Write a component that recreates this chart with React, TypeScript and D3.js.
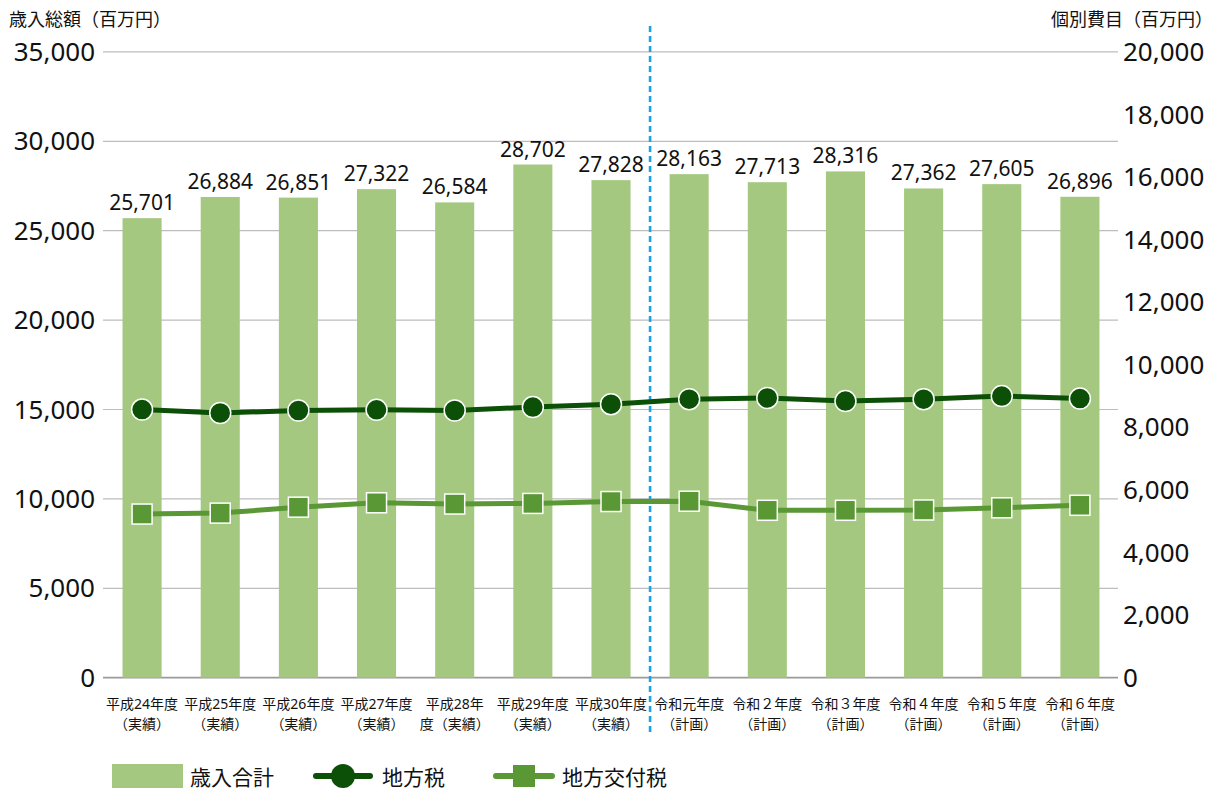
import React from "react";
import * as d3 from "d3";

const categories: string[][] = [
  ["平成24年度", "（実績）"],
  ["平成25年度", "（実績）"],
  ["平成26年度", "（実績）"],
  ["平成27年度", "（実績）"],
  ["平成28年", "度（実績）"],
  ["平成29年度", "（実績）"],
  ["平成30年度", "（実績）"],
  ["令和元年度", "（計画）"],
  ["令和２年度", "（計画）"],
  ["令和３年度", "（計画）"],
  ["令和４年度", "（計画）"],
  ["令和５年度", "（計画）"],
  ["令和６年度", "（計画）"],
];
const revenueTotal = [25701, 26884, 26851, 27322, 26584, 28702, 27828, 28163, 27713, 28316, 27362, 27605, 26896];
const localTax = [8570, 8460, 8540, 8560, 8540, 8650, 8740, 8900, 8940, 8840, 8900, 9000, 8920];
const localAllocationTax = [5230, 5260, 5450, 5590, 5550, 5570, 5630, 5640, 5350, 5350, 5360, 5430, 5510];
const leftTicks = [0, 5000, 10000, 15000, 20000, 25000, 30000, 35000];
const rightTicks = [0, 2000, 4000, 6000, 8000, 10000, 12000, 14000, 16000, 18000, 20000];
const leftTitle = "歳入総額（百万円）";
const rightTitle = "個別費目（百万円）";
const legendLabels = ["歳入合計", "地方税", "地方交付税"];

const W = 1223;
const H = 791;
const FONT = "'Noto Sans', 'Noto Sans CJK JP', sans-serif";
const BAR = "#a4c880";
const DARK = "#0b5006";
const MID = "#5a9735";

export default function App() {
  const x = d3
    .scaleBand<number>()
    .domain(d3.range(categories.length))
    .range([103, 1119])
    .padding(0.5)
    .paddingOuter(0.25);
  const yL = d3.scaleLinear().domain([0, 35000]).range([677.7, 51.9]);
  const yR = d3.scaleLinear().domain([0, 20000]).range([677.7, 51.9]);
  const fmt = d3.format(",");
  const cx = (i: number) => (x(i) as number) + x.bandwidth() / 2;

  const taxLine = d3
    .line<number>()
    .x((_, i) => cx(i))
    .y((d) => yR(d))(localTax) as string;
  const grantLine = d3
    .line<number>()
    .x((_, i) => cx(i))
    .y((d) => yR(d))(localAllocationTax) as string;

  const dashX = (cx(6) + cx(7)) / 2;

  return (
    <svg
      width={W}
      height={H}
      style={{ position: "absolute", left: 0, top: 0, background: "#fff" }}
      fontFamily={FONT}
    >
      {leftTicks.map((t) => (
        <line
          key={"g" + t}
          x1={103}
          x2={1118}
          y1={yL(t)}
          y2={yL(t)}
          stroke={t === 0 ? "#9a9a9a" : "#bdbdbd"}
          strokeWidth={t === 0 ? 1.8 : 1.2}
        />
      ))}
      {leftTicks.map((t) => (
        <text
          key={"l" + t}
          x={95}
          y={yL(t)}
          dy="0.35em"
          textAnchor="end"
          fontSize={26}
          fill="#111"
        >
          {fmt(t)}
        </text>
      ))}
      {rightTicks.map((t) => (
        <text
          key={"r" + t}
          x={1123}
          y={yR(t)}
          dy="0.35em"
          textAnchor="start"
          fontSize={26}
          fill="#111"
        >
          {fmt(t)}
        </text>
      ))}
      <text x={9} y={26} fontSize={18} fill="#111">
        {leftTitle}
      </text>
      <text x={1213} y={26} fontSize={18} fill="#111" textAnchor="end">
        {rightTitle}
      </text>
      {revenueTotal.map((v, i) => (
        <rect
          key={"b" + i}
          x={x(i)}
          y={yL(v)}
          width={x.bandwidth()}
          height={yL(0) - yL(v)}
          fill={BAR}
        />
      ))}
      {revenueTotal.map((v, i) => (
        <text
          key={"bl" + i}
          x={cx(i)}
          y={yL(v) - 8}
          textAnchor="middle"
          fontSize={21}
          fill="#111"
        >
          {fmt(v)}
        </text>
      ))}
      <line
        x1={dashX}
        x2={dashX}
        y1={26}
        y2={735}
        stroke="#1aa3e6"
        strokeWidth={2.6}
        strokeDasharray="6,4"
      />
      <path d={grantLine} fill="none" stroke={MID} strokeWidth={5} />
      <path d={taxLine} fill="none" stroke={DARK} strokeWidth={5} />
      {localAllocationTax.map((v, i) => (
        <rect
          key={"s" + i}
          x={cx(i) - 10}
          y={yR(v) - 10}
          width={20}
          height={20}
          fill={MID}
          stroke="#fff"
          strokeWidth={1.5}
        />
      ))}
      {localTax.map((v, i) => (
        <circle
          key={"c" + i}
          cx={cx(i)}
          cy={yR(v)}
          r={10.5}
          fill={DARK}
          stroke="#fff"
          strokeWidth={1.5}
        />
      ))}
      {categories.map((c, i) => (
        <g key={"x" + i}>
          <text x={cx(i)} y={709} textAnchor="middle" fontSize={14} fill="#111">
            {c[0]}
          </text>
          <text x={cx(i)} y={729} textAnchor="middle" fontSize={14} fill="#111">
            {c[1]}
          </text>
        </g>
      ))}
      <rect x={112} y={764} width={71} height={24} fill={BAR} />
      <text x={190} y={785} fontSize={21} fill="#111">
        {legendLabels[0]}
      </text>
      <line x1={316} x2={370} y1={776} y2={776} stroke={DARK} strokeWidth={6} strokeLinecap="round" />
      <circle cx={343} cy={776} r={12} fill={DARK} />
      <text x={382} y={785} fontSize={21} fill="#111">
        {legendLabels[1]}
      </text>
      <line x1={496} x2={552} y1={776} y2={776} stroke={MID} strokeWidth={6} strokeLinecap="round" />
      <rect x={513} y={765} width={22} height={22} fill={MID} />
      <text x={562} y={785} fontSize={21} fill="#111">
        {legendLabels[2]}
      </text>
    </svg>
  );
}
